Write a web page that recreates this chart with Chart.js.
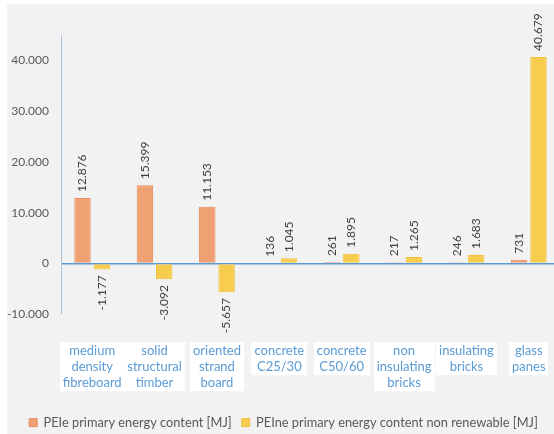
<!DOCTYPE html>
<html>
<head>
<meta charset="utf-8">
<script src="https://cdn.jsdelivr.net/npm/chart.js@4/dist/chart.umd.min.js"></script>
<style>
html,body{margin:0;padding:0;overflow:hidden;background:#fff;}
#wrap{position:relative;width:560px;height:439px;}
</style>
</head>
<body>
<div id="wrap"><canvas id="c"></canvas></div>
<script>
const categories = [
  ["medium","density","fibreboard"],
  ["solid","structural","timber"],
  ["oriented","strand","board"],
  ["concrete","C25/30"],
  ["concrete","C50/60"],
  ["non","insulating","bricks"],
  ["insulating","bricks"],
  ["glass","panes"]
];
const peiRenewable = [12876, 15399, 11153, 136, 261, 217, 246, 731];
const peiNonRenewable = [-1177, -3092, -5657, 1045, 1895, 1265, 1683, 40679];
const seriesNames = ["PEIe primary energy content [MJ]", "PEIne primary energy content non renewable [MJ]"];
const yTicks = [-10000, 0, 10000, 20000, 30000, 40000];

function fmt(v){
  const s = Math.abs(Math.round(v)).toString().replace(/\B(?=(\d{3})+(?!\d))/g, ".");
  return (v < 0 ? "-" : "") + s;
}

const FONT = 'Lato, "Liberation Sans", sans-serif';

const bgPlugin = {
  id: 'bg',
  beforeDraw(chart){
    const ctx = chart.ctx;
    ctx.save();
    ctx.fillStyle = '#ffffff';
    ctx.fillRect(0,0,chart.width,chart.height);
    ctx.fillStyle = '#f2f2f2';
    ctx.fillRect(7,4,chart.width-7,chart.height-4);
    ctx.restore();
  }
};

const catLabelPlugin = {
  id: 'catlabels',
  afterDraw(chart){
    const ctx = chart.ctx;
    const xs = chart.scales.x;
    const top = chart.chartArea.bottom + 28;
    const lh = 16;
    ctx.save();
    ctx.font = '13px ' + FONT;
    ctx.textAlign = 'center';
    ctx.textBaseline = 'middle';
    chart.data.labels.forEach((lines, i) => {
      const cx = xs.getPixelForTick(i);
      let w = 0;
      lines.forEach(l => { w = Math.max(w, ctx.measureText(l).width); });
      ctx.fillStyle = '#ffffff';
      ctx.fillRect(Math.round(cx - w/2 - 3), top, Math.round(w + 6), lines.length*lh + 1);
      ctx.fillStyle = '#5b9bd5';
      lines.forEach((l, k) => ctx.fillText(l, cx, top + 8.5 + k*lh));
    });
    ctx.restore();
  }
};

const labelPlugin = {
  id: 'vlabels',
  afterDatasetsDraw(chart){
    const ctx = chart.ctx;
    ctx.save();
    ctx.font = '12px ' + FONT;
    ctx.fillStyle = '#404040';
    ctx.textBaseline = 'middle';
    chart.data.datasets.forEach((ds, di) => {
      const meta = chart.getDatasetMeta(di);
      meta.data.forEach((el, i) => {
        const v = ds.data[i];
        ctx.save();
        ctx.translate(el.x, v >= 0 ? el.y - 6 : el.y + 6);
        ctx.rotate(-Math.PI/2);
        ctx.textAlign = v >= 0 ? 'left' : 'right';
        ctx.fillText(fmt(v), 0, 0);
        ctx.restore();
      });
    });
    ctx.restore();
  }
};

new Chart(document.getElementById('c'), {
  type: 'bar',
  data: {
    labels: categories,
    datasets: [
      {label: seriesNames[0], data: peiRenewable, backgroundColor: '#f0a173', borderColor: '#e98b5c', borderWidth: 1},
      {label: seriesNames[1], data: peiNonRenewable, backgroundColor: '#f8cc4f', borderColor: '#f1c03c', borderWidth: 1}
    ]
  },
  options: {
    responsive: true,
    maintainAspectRatio: false,
    animation: false,
    layout: {padding: {left: 7, top: 35, right: 0, bottom: 0}},
    datasets: {bar: {categoryPercentage: 0.62, barPercentage: 0.85}},
    plugins: {
      legend: {
        position: 'bottom',
        labels: {
          boxWidth: 8, boxHeight: 8, padding: 10,
          color: '#595959',
          font: {family: FONT, size: 12.8}
        }
      },
      tooltip: {enabled: false}
    },
    scales: {
      x: {
        grid: {display: false, drawTicks: false},
        border: {display: false},
        ticks: {display: false},
        afterFit(scale){ scale.height = 92; }
      },
      y: {
        min: -10000,
        max: 45000,
        afterBuildTicks(scale){
          scale.ticks = yTicks.map(v => ({value: v}));
        },
        afterFit(scale){ scale.width = 54; },
        grid: {
          drawTicks: false,
          color: ctx => (ctx.tick && ctx.tick.value === 0) ? '#5b9bd5' : 'rgba(0,0,0,0)',
          lineWidth: ctx => (ctx.tick && ctx.tick.value === 0) ? 1.5 : 0
        },
        border: {display: true, color: '#a9c4e3', width: 1},
        ticks: {
          color: '#595959',
          padding: 12,
          font: {family: FONT, size: 12},
          callback: v => fmt(v)
        }
      }
    }
  },
  plugins: [bgPlugin, labelPlugin, catLabelPlugin]
});
</script>
</body>
</html>
